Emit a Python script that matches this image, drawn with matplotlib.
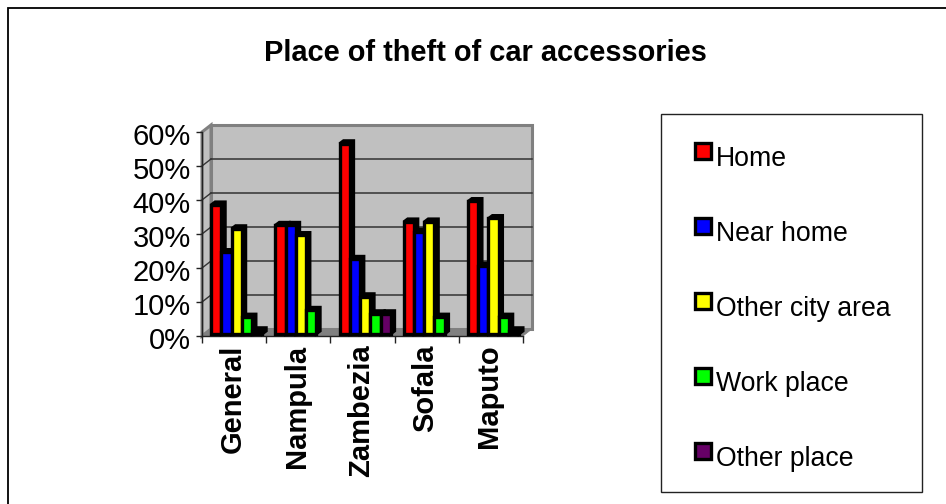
import matplotlib
matplotlib.use('Agg')
import matplotlib.pyplot as plt
from matplotlib.patches import Rectangle, Polygon
from matplotlib.ticker import FuncFormatter
from matplotlib.transforms import ScaledTranslation
import numpy as np

plt.rcParams['font.family'] = ['Liberation Sans', 'DejaVu Sans']

W, H = 946, 504
categories = ['General', 'Nampula', 'Zambezia', 'Sofala', 'Maputo']
series_names = ['Home', 'Near home', 'Other city area', 'Work place', 'Other place']
series_colors = ['#ff0000', '#0000ff', '#ffff00', '#00ff00', '#660066']
home = [38, 32, 56, 33, 39]
near_home = [24, 32, 22, 30, 20]
other_city = [31, 29, 11, 33, 34]
work_place = [5, 7, 6, 5, 5]
other_place = [1, 0, 6, 0, 1]
series = [home, near_home, other_city, work_place, other_place]
yticks = [0, 10, 20, 30, 40, 50, 60]

fig = plt.figure(figsize=(W / 100, H / 100), dpi=100, facecolor='white')
bg = fig.add_axes([0, 0, 1, 1])
bg.set_xlim(0, W); bg.set_ylim(H, 0); bg.axis('off')
bg.add_patch(Rectangle((7.5, 7.5), W + 20, H + 20, fc='white', ec='black', lw=1.3))
bg.text(485, 53, 'Place of theft of car accessories', ha='center', va='center',
        fontsize=20.9, fontweight='bold', color='black')

# legend box and entries
bg.add_patch(Rectangle((660.5, 113.5), 261, 378, fc='white', ec='#222222', lw=1.0))
legend_y = [151, 226, 301, 376, 451]
for name, color, ly in zip(series_names, series_colors, legend_y):
    bg.add_patch(Rectangle((694.5, ly - 8), 16, 16, fc=color, ec='black', lw=2.4))
    bg.text(716, ly + 8, name, ha='left', va='center', fontsize=19.2, color='black')

# plot axes on the front plane
L, R, T, B = 202, 523, 132, 336
ax = fig.add_axes([L / W, 1 - B / H, (R - L) / W, (B - T) / H], facecolor='none')
ax.set_xlim(0, 5); ax.set_ylim(0, 60)
for s in ['top', 'right']:
    ax.spines[s].set_visible(False)
for s in ['left', 'bottom']:
    ax.spines[s].set_color('#222222'); ax.spines[s].set_linewidth(1.0)
ax.set_yticks(yticks)
ax.yaxis.set_major_formatter(FuncFormatter(lambda v, p: f'{int(v)}%'))
ax.set_xticks(np.arange(0, 6))
ax.set_xticklabels([])
ax.tick_params(axis='both', color='#222222', width=1.0, length=5, direction='out')
ax.tick_params(axis='y', labelsize=21, pad=4, length=4)
ax.tick_params(axis='x', length=5)
shift = ScaledTranslation(0, -2 / 72 * 0.72, fig.dpi_scale_trans)
for lab in ax.get_yticklabels():
    lab.set_transform(lab.get_transform() + shift)
for i, c in enumerate(categories):
    ax.text(i + 0.475, -2.5, c, rotation=90, ha='center', va='top',
            fontsize=21, fontweight='bold', color='black', clip_on=False)

px = 5 / (R - L)     # data units per pixel in x
py = 60 / (B - T)    # data units per pixel in y
dx, dy = 9 * px, 7 * py   # depth of the back wall

# walls
wall = '#c0c0c0'; wall_edge = '#808080'
ax.add_patch(Rectangle((dx, dy), 5, 60, fc=wall, ec=wall_edge, lw=2.2, clip_on=False, zorder=1))
ax.add_patch(Polygon([(0, 0), (dx, dy), (dx, 60 + dy), (0, 60)], fc=wall, ec=wall_edge,
                     lw=2.2, clip_on=False, zorder=1))
ax.add_patch(Polygon([(0, 0), (5, 0), (5 + dx, dy), (dx, dy)], fc='#808080', ec='#808080',
                     lw=0.5, clip_on=False, zorder=1))
for v in yticks[1:-1]:
    ax.plot([dx, 5 + dx], [v + dy, v + dy], color='#333333', lw=1.1, clip_on=False, zorder=2)
    ax.plot([0, dx], [v, v + dy], color='#333333', lw=1.0, clip_on=False, zorder=2)

# bars
bar_w = 10.25 * px
start = 6.6 * px
bx, by = 2.5 * px, 2.0 * py    # bars stand inside the depth
ex, ey = 4.0 * px, 3.0 * py    # extrusion of each bar
z = 3
for c in range(len(categories)):
    for k, vals in enumerate(series):
        v = vals[c]
        if v == 0:
            continue
        x0 = c + start + k * bar_w + bx
        x1 = x0 + bar_w
        y0 = by
        y1 = v + by
        ax.add_patch(Polygon([(x0, y1), (x0 + ex, y1 + ey), (x1 + ex, y1 + ey),
                              (x1 + ex, y0 + ey), (x1, y0), (x1, y1)],
                             fc='black', ec='black', lw=2.0, clip_on=False, zorder=z))
        ax.add_patch(Rectangle((x0, y0), bar_w, y1 - y0, fc=series_colors[k], ec='black',
                               lw=2.4, clip_on=False, zorder=z + 1))
        z += 2

fig.savefig('out.png', dpi=100, facecolor='white')
